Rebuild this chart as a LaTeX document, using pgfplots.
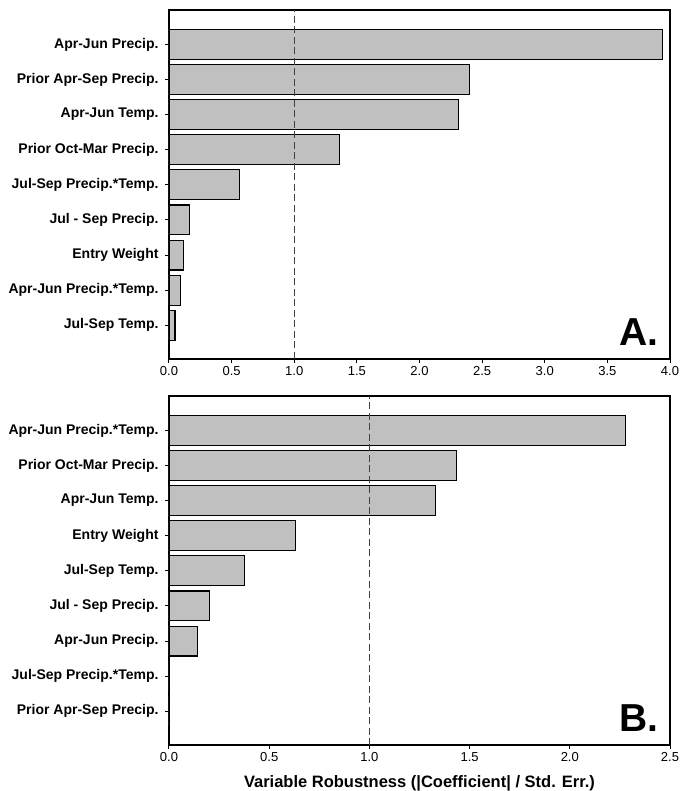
\documentclass[border=0pt]{standalone}
\usepackage{fontspec}
\setmainfont{Liberation Sans}
\usepackage{pgfplots}
\pgfplotsset{compat=1.18}
\definecolor{barfill}{HTML}{C0C0C0}
\definecolor{dashc}{HTML}{404040}
\pgfplotsset{
  panel/.style={
    scale only axis, width=501pt, height=349pt,
    bar width=0.85,
    xmin=0, ymin=0.04, ymax=9.98,
    ytick={1,...,9},
    axis line style={line width=1.1pt},
    tick style={line width=1pt, black},
    tick align=outside, major tick length=4pt,
    xtick pos=bottom, ytick pos=left,
    /pgf/number format/assume math mode=true,
    xticklabel style={/pgf/number format/.cd, fixed, fixed zerofill, precision=1, /tikz/.cd, font=\fontsize{13}{15}\selectfont},
    yticklabel style={font=\bfseries\fontsize{14}{16}\selectfont, xshift=-3pt},
    xtick distance=0.5,
  },
  bars/.style={xbar, fill=barfill, draw=black, line width=1.1pt},
  dline/.style={dashc, line width=0.8pt, dash pattern=on 7pt off 3.5pt},
}
\begin{document}
\begin{tikzpicture}
\useasboundingbox (-169pt,10pt) rectangle (512pt,-781pt);
\begin{axis}[panel, at={(0pt,0pt)}, anchor=north west, xmax=4,
  yticklabels={Jul-Sep Temp., Apr-Jun Precip.*Temp., Entry Weight, Jul - Sep Precip., Jul-Sep Precip.*Temp., Prior Oct-Mar Precip., Apr-Jun Temp., Prior Apr-Sep Precip., Apr-Jun Precip.}]
\addplot[bars] coordinates {(0.048,1) (0.09,2) (0.117,3) (0.165,4) (0.56,5) (1.36,6) (2.31,7) (2.40,8) (3.94,9)};
\addplot[dline, sharp plot, no marks, forget plot] coordinates {(1,0.04) (1,9.98)};
\node[anchor=base east, font=\bfseries\fontsize{39}{40}\selectfont] at (rel axis cs:0.984,0.04) {A.};
\end{axis}
\begin{axis}[panel, at={(0pt,-386pt)}, anchor=north west, xmax=2.5,
  yticklabels={Prior Apr-Sep Precip., Jul-Sep Precip.*Temp., Apr-Jun Precip., Jul - Sep Precip., Jul-Sep Temp., Entry Weight, Apr-Jun Temp., Prior Oct-Mar Precip., Apr-Jun Precip.*Temp.},
  xlabel={Variable Robustness (|Coefficient| / Std. Err.)},
  xlabel style={font=\bfseries\fontsize{16.5}{18}\selectfont, anchor=base, at={(axis description cs:0.5,0)}, yshift=-42pt}]
\addplot[bars] coordinates {(0,1) (0,2) (0.143,3) (0.20,4) (0.376,5) (0.63,6) (1.33,7) (1.436,8) (2.28,9)};
\addplot[dline, sharp plot, no marks, forget plot] coordinates {(1,0.04) (1,9.98)};
\node[anchor=base east, font=\bfseries\fontsize{39}{40}\selectfont] at (rel axis cs:0.984,0.04) {B.};
\end{axis}
\end{tikzpicture}
\end{document}
